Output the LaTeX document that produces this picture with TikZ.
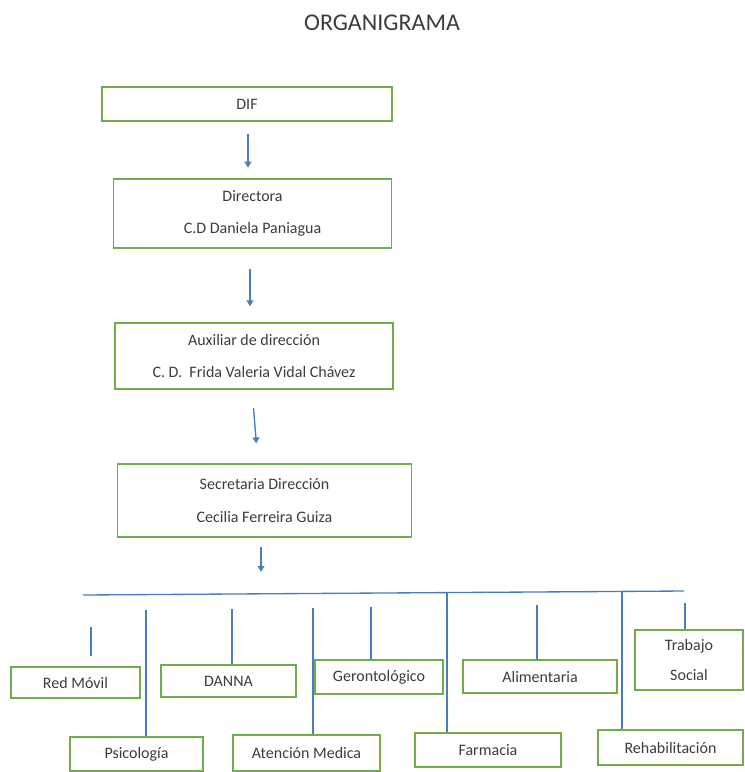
\documentclass[tikz,border=0pt]{standalone}
\usepackage{fontspec}
\setmainfont{Carlito}
\usetikzlibrary{arrows.meta}
\definecolor{verdecaja}{RGB}{112,173,71}
\definecolor{azulflecha}{RGB}{74,126,187}
\definecolor{texto}{RGB}{60,60,60}

\begin{document}
\begin{tikzpicture}[x=.75pt, y=-.75pt,
		caja/.style={draw=verdecaja, line width=.9pt, inner sep=0pt, text=texto, align=center, font=\fontsize{12}{14.4}\selectfont},
		flecha/.style={draw=azulflecha, line width=1pt, -{Triangle[length=4.5pt,width=5pt]}},
		linea/.style={draw=azulflecha, line width=1pt}]
				\useasboundingbox (0,0) rectangle (744,772);
				\node[text=texto, font=\fontsize{18}{21}\selectfont] (titulo) at (382,23) {ORGANIGRAMA};
				% cadena de mando
				\node[caja, minimum width=217.5pt, minimum height=25.5pt] (dif) at (247,104) {DIF};
				\node[caja, minimum width=209pt, minimum height=51.75pt] (directora) at (252.5,213.5) {Directora\\[10pt]C.D Daniela Paniagua};
				\node[caja, minimum width=208.5pt, minimum height=49.5pt] (auxiliar) at (254,356) {Auxiliar de dirección\\[10pt]C.~D.~~Frida Valeria Vidal Chávez};
				\node[caja, minimum width=221pt, minimum height=54.75pt] (secretaria) at (264.5,500.5) {Secretaria Dirección\\[10pt]Cecilia Ferreira Guiza};
				\coordinate (fin) at (261,572);
				\draw[flecha, shorten <=9pt, shorten >=8pt] (dif.south -| 248,0) -- (directora.north -| 248,0);
				\draw[flecha, shorten <=15pt, shorten >=12pt] (directora.south -| 250,0) -- (auxiliar.north -| 250,0);
				\draw[flecha, shorten <=14pt, shorten >=15pt] (auxiliar.south -| 252,0) -- (secretaria.north -| 258,0);
				\draw[flecha, shorten <=7pt] (secretaria.south -| fin) -- (fin);
				% areas
				\node[caja, minimum width=96.75pt, minimum height=23.25pt] (redmovil) at (75.5,682.5) {Red Móvil};
				\node[caja, minimum width=99.75pt, minimum height=25.5pt] (psicologia) at (136.5,754) {Psicología};
				\node[caja, minimum width=101.25pt, minimum height=24pt] (danna) at (228.5,681) {DANNA};
				\node[caja, minimum width=110.25pt, minimum height=27pt] (atencion) at (306.5,753) {Atención Medica};
				\node[caja, minimum width=96pt, minimum height=25.5pt] (geronto) at (379,677) {Gerontológico};
				\node[caja, minimum width=109.5pt, minimum height=25.5pt] (farmacia) at (488,750) {Farmacia};
				\node[caja, minimum width=115.5pt, minimum height=24.75pt] (alimentaria) at (540,676.5) {Alimentaria};
				\node[caja, minimum width=108.75pt, minimum height=26.25pt] (rehab) at (670.5,747.5) {Rehabilitación};
				\node[caja, minimum width=81pt, minimum height=45pt] (trabajo) at (689,660) {Trabajo\\[8pt]Social};
				% barra horizontal
				\coordinate (barraA) at (83,595);
				\coordinate (barraB) at (684,591);
				\draw[linea] (barraA) -- (barraB);
				\draw[linea, shorten >=7.5pt] (91,627) -- (redmovil.north -| 91,627);
				\foreach \n/\x/\t in {psicologia/146/610, danna/232/609, atencion/313/608, geronto/371/607,
					farmacia/447/593, alimentaria/537/605, rehab/622/591, trabajo/685/603} {
					\draw[linea] (\x,\t) -- (\n.north -| \x,\t);
				}
			\end{tikzpicture}
\end{document}
